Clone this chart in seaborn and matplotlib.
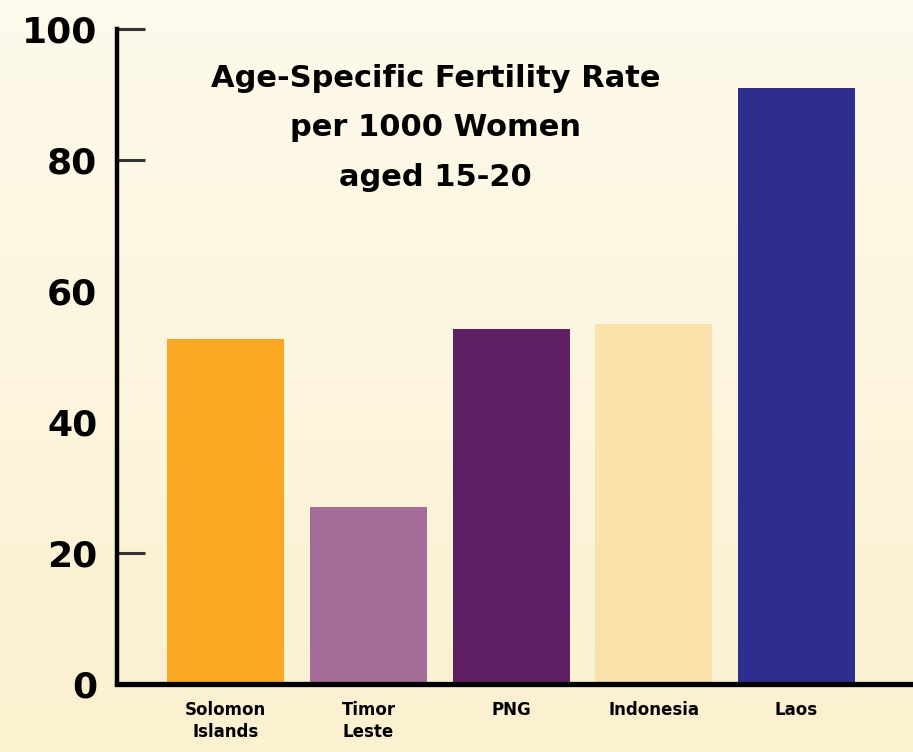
import numpy as np
import pandas as pd
import matplotlib
matplotlib.use("Agg")
import matplotlib.pyplot as plt
import seaborn as sns

# data
countries = ["Solomon\nIslands", "Timor\nLeste", "PNG", "Indonesia", "Laos"]
fertility = [52.7, 27.0, 54.2, 55.0, 91.0]
colors = ["#F8A823", "#A46C99", "#5E2062", "#FBE1AA", "#2E2E8E"]
yticks = [0, 20, 40, 60, 80, 100]

df = pd.DataFrame({"country": countries, "rate": fertility})

sns.set_style("white")
plt.rcParams["font.family"] = ["DejaVu Sans"]
plt.rcParams["text.color"] = "black"
plt.rcParams["xtick.color"] = "black"
plt.rcParams["ytick.color"] = "black"

fig = plt.figure(figsize=(9.13, 7.52), dpi=100)

# cream gradient background
bg = fig.add_axes([0, 0, 1, 1], zorder=-1)
grad = np.linspace(0, 1, 256).reshape(-1, 1)
top = np.array([254, 250, 236]) / 255
bot = np.array([251, 240, 207]) / 255
img = top + (bot - top) * grad[:, :, None]
bg.imshow(img, aspect="auto", extent=[0, 1, 0, 1])
bg.axis("off")

ax = fig.add_axes([0.128, 0.0904, 0.872, 0.871])
ax.patch.set_alpha(0)

sns.barplot(data=df, x="country", y="rate", hue="country",
            palette=colors, legend=False, width=0.82,
            saturation=1, linewidth=0, ax=ax)

ax.set_ylim(0, 100)
ax.set_xlim(-0.764, 4.817)
ax.set_yticks(yticks)
ax.set_yticklabels([str(t) for t in yticks], fontsize=26, fontweight="bold")
ax.tick_params(axis="y", left=True, direction="in", length=20, width=2.2,
               color="#333333", labelcolor="black", pad=14)
# the original only shows tick marks at 20, 80 and 100
for t, tick in zip(yticks, ax.yaxis.get_major_ticks()):
    if t in (40, 60):
        tick.tick1line.set_visible(False)

ax.tick_params(axis="x", bottom=False, length=0, pad=12, labelcolor="black")
for lab in ax.get_xticklabels():
    lab.set_fontsize(12)
    lab.set_fontweight("bold")
    lab.set_linespacing(1.3)

ax.set_xlabel("")
ax.set_ylabel("")
sns.despine(ax=ax, top=True, right=True)
ax.spines["left"].set_linewidth(3.2)
ax.spines["bottom"].set_linewidth(3.8)
ax.spines["left"].set_color("black")
ax.spines["bottom"].set_color("black")

ax.text(0.4, 0.849, "Age-Specific Fertility Rate\nper 1000 Women\naged 15-20",
        transform=ax.transAxes, ha="center", va="center", color="black",
        fontsize=22, fontweight="heavy", linespacing=1.9)

fig.savefig("out.png", dpi=100)
